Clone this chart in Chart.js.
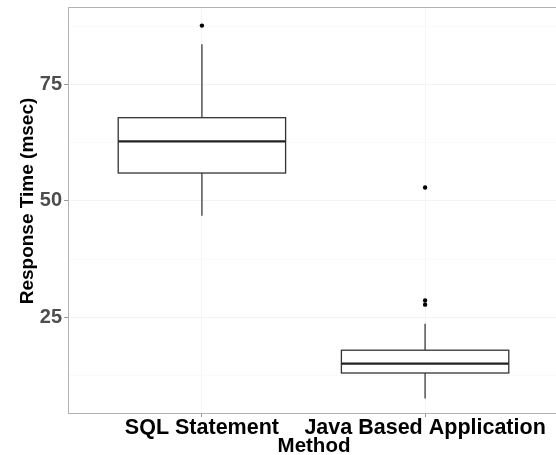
<!DOCTYPE html>
<html>
<head>
<meta charset="utf-8">
<script src="https://cdn.jsdelivr.net/npm/chart.js@4/dist/chart.umd.min.js"></script>
<style>
  html, body { margin: 0; padding: 0; background: #fff; overflow: hidden; }
  #wrap { width: 562px; height: 455px; }
</style>
</head>
<body>
<div id="wrap"><canvas id="chart" width="562" height="455"></canvas></div>
<script>
// box plot values (msec)
const methods      = ["SQL Statement", "Java Based Application"];
const whiskerLow   = [46.8, 7.5];
const q1           = [56.0, 13.0];
const median       = [62.8, 15.0];
const q3           = [67.9, 17.9];
const whiskerHigh  = [83.7, 23.6];
const outlierGroup = [0, 1, 1, 1];
const outlierValue = [87.7, 52.9, 28.6, 27.7];
const yTicks       = [12.5, 25, 37.5, 50, 62.5, 75, 87.5];

const BOX_W = 0.75;
const FONT = "'Liberation Sans', Arial, sans-serif";

const boxPlot = {
  id: "boxPlot",
  beforeDatasetsDraw(chart) {
    const { ctx, chartArea: a, scales: { x, y } } = chart;
    ctx.save();
    // top frame line (left / bottom come from the axis borders)
    ctx.strokeStyle = "#b3b3b3"; ctx.lineWidth = 1;
    ctx.beginPath(); ctx.moveTo(a.left, a.top + 0.5); ctx.lineTo(a.right, a.top + 0.5); ctx.stroke();

    methods.forEach((m, i) => {
      const cx = x.getPixelForValue(i + 1);
      const l = x.getPixelForValue(i + 1 - BOX_W / 2), r = x.getPixelForValue(i + 1 + BOX_W / 2);
      const yq1 = y.getPixelForValue(q1[i]), yq3 = y.getPixelForValue(q3[i]);
      // whiskers
      ctx.strokeStyle = "#555"; ctx.lineWidth = 1.5;
      ctx.beginPath();
      ctx.moveTo(cx, y.getPixelForValue(whiskerHigh[i])); ctx.lineTo(cx, yq3);
      ctx.moveTo(cx, yq1); ctx.lineTo(cx, y.getPixelForValue(whiskerLow[i]));
      ctx.stroke();
      // box
      ctx.fillStyle = "#fff"; ctx.strokeStyle = "#333"; ctx.lineWidth = 1.3;
      ctx.fillRect(l, yq3, r - l, yq1 - yq3);
      ctx.strokeRect(l, yq3, r - l, yq1 - yq3);
      // median
      const ym = y.getPixelForValue(median[i]);
      ctx.strokeStyle = "#222"; ctx.lineWidth = 2.2;
      ctx.beginPath(); ctx.moveTo(l, ym); ctx.lineTo(r, ym); ctx.stroke();
    });
    ctx.restore();
  },
  afterDraw(chart) {
    // axis titles, placed as in the source figure
    const { ctx } = chart;
    ctx.save();
    ctx.fillStyle = "#000";
    ctx.textAlign = "center";
    ctx.textBaseline = "alphabetic";
    ctx.font = `bold 20.5px ${FONT}`;
    ctx.fillText("Method", 314, 452);
    ctx.translate(33, 201);
    ctx.rotate(-Math.PI / 2);
    ctx.font = `bold 19px ${FONT}`;
    ctx.fillText("Response Time (msec)", 0, 0);
    ctx.restore();
  }
};

new Chart(document.getElementById("chart"), {
  type: "scatter",
  data: {
    datasets: [{
      data: outlierValue.map((v, i) => ({ x: outlierGroup[i] + 1, y: v })),
      pointRadius: 2.2, pointHoverRadius: 2.2,
      backgroundColor: "#000", borderWidth: 0
    }]
  },
  options: {
    responsive: false, animation: false,
    layout: { padding: { top: 7, right: 3, left: 0, bottom: 0 } },
    plugins: { legend: { display: false }, tooltip: { enabled: false } },
    scales: {
      x: {
        type: "linear", min: 0.4, max: 2.6,
        afterBuildTicks: s => { s.ticks = [{ value: 1 }, { value: 2 }]; },
        afterFit: s => { s.height = 42; s.paddingLeft = 0; s.paddingRight = 0; },
        grid: { color: "#f5f5f5", tickColor: "#999", tickLength: 4 },
        border: { color: "#b3b3b3", width: 1 },
        ticks: {
          callback: v => methods[v - 1], maxRotation: 0, padding: 0,
          color: "#000", font: { family: FONT, size: 21.5, weight: "bold", lineHeight: 1 }
        }
      },
      y: {
        min: 4.4, max: 91.7,
        afterBuildTicks: s => { s.ticks = yTicks.map(v => ({ value: v })); },
        afterFit: s => { s.width = 68; s.paddingTop = 0; s.paddingBottom = 0; },
        grid: {
          color: c => (c.tick && c.tick.value % 25 ? "#fafafa" : "#f3f3f3"),
          tickColor: c => (c.tick && c.tick.value % 25 ? "rgba(0,0,0,0)" : "#999"),
          tickLength: 4
        },
        border: { color: "#b3b3b3", width: 1 },
        ticks: {
          callback: v => (v % 25 ? "" : v), padding: 2,
          color: "#4d4d4d", font: { family: FONT, size: 20, weight: "bold" }
        }
      }
    }
  },
  plugins: [boxPlot]
});
</script>
</body>
</html>
